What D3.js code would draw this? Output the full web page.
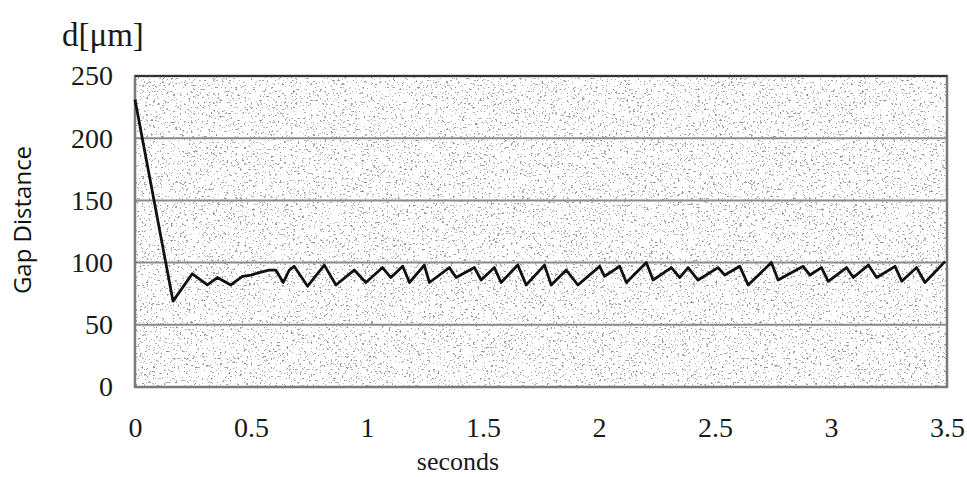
<!DOCTYPE html>
<html>
<head>
<meta charset="utf-8">
<script src="https://cdn.jsdelivr.net/npm/d3@7"></script>
<style>
    body { margin: 0; background: #fff; }
    svg { display: block; }
    .serif { font-family: "Liberation Serif", "Times New Roman", serif; fill: #1a1a1a; }
    .sans { font-family: "Open Sans", "Noto Sans", sans-serif; fill: #111; }
</style>
</head>
<body>
<div id="chart"></div>
<script>
    // gap distance readings (seconds, micrometres)
    var times = [0, 0.164, 0.247, 0.312, 0.355, 0.413, 0.463, 0.500, 0.535, 0.578, 0.607, 0.639,
        0.665, 0.686, 0.744, 0.816, 0.866, 0.945, 0.995, 1.067, 1.103, 1.154, 1.183, 1.247,
        1.269, 1.355, 1.384, 1.463, 1.492, 1.549, 1.578, 1.650, 1.686, 1.765, 1.794, 1.859,
        1.909, 2.003, 2.024, 2.089, 2.118, 2.204, 2.233, 2.312, 2.348, 2.384, 2.427, 2.513,
        2.542, 2.607, 2.643, 2.743, 2.772, 2.880, 2.909, 2.959, 2.988, 3.067, 3.096, 3.161,
        3.197, 3.276, 3.305, 3.369, 3.405, 3.492];
    var gap = [231, 69, 91, 82, 88, 82, 89, 90, 92, 94, 94, 84,
        94, 97, 81, 98, 82, 94, 84, 96, 88, 97, 84, 98,
        84, 96, 88, 96, 86, 96, 84, 98, 82, 98, 82, 94,
        82, 97, 89, 97, 84, 100, 86, 96, 88, 96, 86, 96,
        90, 97, 82, 100, 86, 97, 90, 96, 85, 96, 88, 98,
        88, 97, 85, 96, 84, 101];
    var xTicks = [0, 0.5, 1, 1.5, 2, 2.5, 3, 3.5];
    var yTicks = [0, 50, 100, 150, 200, 250];
    var gridLines = [50, 100, 150, 200];

    var width = 967, height = 477;
    var pLeft = 135, pRight = 947, pTop = 76, pBottom = 387;

    var x = d3.scaleLinear().domain([0, 3.5]).range([pLeft, pRight]);
    var y = d3.scaleLinear().domain([0, 250]).range([pBottom, pTop]);

    var svg = d3.select("#chart").append("svg")
        .attr("width", width)
        .attr("height", height);

    // speckled scan texture
    var defs = svg.append("defs");
    var f = defs.append("filter").attr("id", "stipple")
        .attr("x", 0).attr("y", 0).attr("width", "100%").attr("height", "100%");
    f.append("feTurbulence")
        .attr("type", "fractalNoise")
        .attr("baseFrequency", "0.45 0.55")
        .attr("numOctaves", 2)
        .attr("seed", 7)
        .attr("result", "noise");
    f.append("feColorMatrix")
        .attr("type", "matrix")
        .attr("values", "0 0 0 0 0.25  0 0 0 0 0.25  0 0 0 0 0.25  1 0 0 0 0")
        .attr("result", "mask");
    var ct = f.append("feComponentTransfer");
    ct.append("feFuncA").attr("type", "discrete")
        .attr("tableValues", "0 0 0 0 0 0 0 0 0 0 0 0 0 0.6 0.8 0.95 1 1 1 1");

    var plotW = pRight - pLeft, plotH = pBottom - pTop;

    svg.append("rect")
        .attr("x", pLeft).attr("y", pTop)
        .attr("width", plotW).attr("height", plotH)
        .attr("fill", "#fff");
    svg.append("rect")
        .attr("x", pLeft).attr("y", pTop)
        .attr("width", plotW).attr("height", plotH)
        .attr("fill", "#000")
        .attr("filter", "url(#stipple)");

    // horizontal grid
    svg.append("g").selectAll("line")
        .data(gridLines)
        .enter().append("line")
        .attr("x1", pLeft).attr("x2", pRight)
        .attr("y1", function(d) { return y(d); })
        .attr("y2", function(d) { return y(d); })
        .attr("stroke", "#8a8a8a")
        .attr("stroke-width", 2);

    // frame
    svg.append("rect")
        .attr("x", pLeft).attr("y", pTop)
        .attr("width", plotW).attr("height", plotH)
        .attr("fill", "none")
        .attr("stroke", "#7a7a7a")
        .attr("stroke-width", 2.5);
    svg.append("line")
        .attr("x1", pLeft).attr("x2", pRight)
        .attr("y1", pTop).attr("y2", pTop)
        .attr("stroke", "#333").attr("stroke-width", 2);

    // data line
    var line = d3.line()
        .x(function(d, i) { return x(times[i]); })
        .y(function(d) { return y(d); });
    svg.append("path")
        .datum(gap)
        .attr("d", line)
        .attr("fill", "none")
        .attr("stroke", "#111")
        .attr("stroke-width", 2.8)
        .attr("stroke-linejoin", "round");

    // axes (labels only, as in the scan)
    var xAxis = d3.axisBottom(x).tickValues(xTicks).tickSize(0).tickPadding(0)
        .tickFormat(function(d) { return String(d); });
    var gx = svg.append("g").attr("transform", "translate(0," + (pBottom + 42) + ")").call(xAxis);
    gx.select(".domain").remove();
    gx.selectAll("text")
        .attr("class", "serif")
        .attr("font-size", 28)
        .attr("dy", "0.3em");

    var yAxis = d3.axisLeft(y).tickValues(yTicks).tickSize(0).tickPadding(22)
        .tickFormat(function(d) { return String(d); });
    var gy = svg.append("g").attr("transform", "translate(" + pLeft + ",0)").call(yAxis);
    gy.select(".domain").remove();
    gy.selectAll("text")
        .attr("class", "serif")
        .attr("font-size", 28);

    svg.append("text")
        .attr("class", "serif")
        .attr("x", 62).attr("y", 46)
        .attr("font-size", 33)
        .text("d[μm]");

    svg.append("text")
        .attr("class", "serif")
        .attr("x", 458).attr("y", 470)
        .attr("text-anchor", "middle")
        .attr("font-size", 26)
        .text("seconds");

    svg.append("text")
        .attr("class", "sans")
        .attr("transform", "translate(31,220) rotate(-90)")
        .attr("text-anchor", "middle")
        .attr("font-size", 24)
        .text("Gap Distance");
</script>
</body>
</html>
